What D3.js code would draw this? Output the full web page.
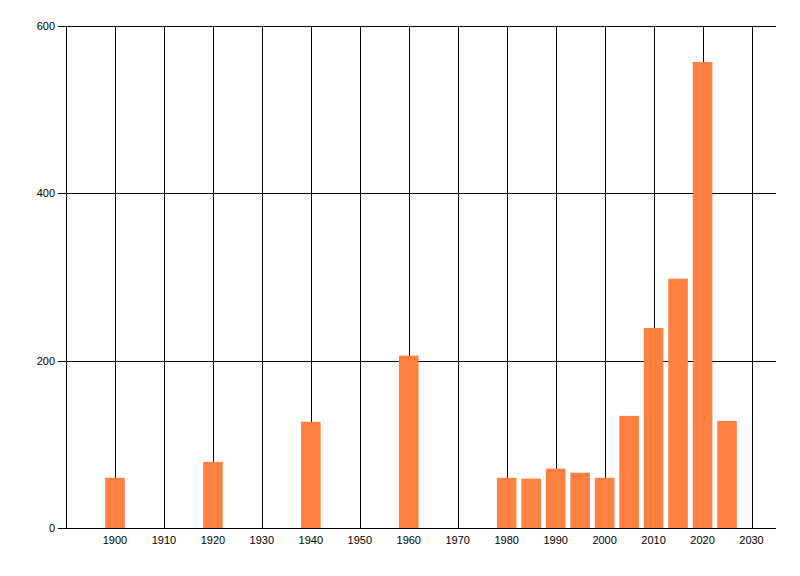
<!DOCTYPE html>
<html>
<head>
<meta charset="utf-8">
<script src="https://cdn.jsdelivr.net/npm/d3@7"></script>
<style>
  body { margin: 0; background: #fff; }
  text { font-family: "Liberation Sans", Arial, sans-serif; font-size: 11px; fill: #000; }
</style>
</head>
<body>
<div id="chart"></div>
<script>
// Bar data: year -> count
const years = [1900, 1920, 1940, 1960, 1980, 1985, 1990, 1995, 2000, 2005, 2010, 2015, 2020, 2025];
const counts = [60, 79, 127, 206, 60, 59, 71, 66, 60, 134, 239, 298, 557, 128];
const xTicks = [1900, 1910, 1920, 1930, 1940, 1950, 1960, 1970, 1980, 1990, 2000, 2010, 2020, 2030];
const yTicks = [0, 200, 400, 600];

const width = 800, height = 576;
const margin = { top: 26, right: 24, bottom: 48, left: 66 };

const svg = d3.select("#chart")
  .append("svg")
  .attr("width", width)
  .attr("height", height);

// Scales
const x = d3.scaleLinear()
  .domain([1890, 2035])
  .range([margin.left, width - margin.right]);
const y = d3.scaleLinear()
  .domain([0, 600])
  .range([height - margin.bottom, margin.top]);

const barW = x(1904) - x(1900);

// Vertical gridlines at each decade
svg.append("g")
  .selectAll("line")
  .data(xTicks)
  .enter()
  .append("line")
  .attr("x1", d => Math.round(x(d)) + 0.5)
  .attr("x2", d => Math.round(x(d)) + 0.5)
  .attr("y1", y(600))
  .attr("y2", y(0))
  .attr("stroke", "#000");

// Horizontal gridlines plus small left ticks
svg.append("g")
  .selectAll("line")
  .data(yTicks)
  .enter()
  .append("line")
  .attr("x1", margin.left - 8)
  .attr("x2", width - margin.right)
  .attr("y1", d => Math.round(y(d)) + 0.5)
  .attr("y2", d => Math.round(y(d)) + 0.5)
  .attr("stroke", "#000");

// Left axis line
svg.append("line")
  .attr("x1", margin.left + 0.5)
  .attr("x2", margin.left + 0.5)
  .attr("y1", y(600))
  .attr("y2", y(0))
  .attr("stroke", "#000");

// Bars
svg.append("g")
  .selectAll("rect")
  .data(years.map((yr, i) => ({ yr, v: counts[i] })))
  .enter()
  .append("rect")
  .attr("x", d => x(d.yr) - barW / 2)
  .attr("width", barW)
  .attr("y", d => y(d.v))
  .attr("height", d => y(0) - y(d.v))
  .attr("fill", "#ff8040");

// X labels
svg.append("g")
  .selectAll("text")
  .data(xTicks)
  .enter()
  .append("text")
  .attr("x", d => x(d))
  .attr("y", y(0) + 16)
  .attr("text-anchor", "middle")
  .text(d => d);

// Y labels
svg.append("g")
  .selectAll("text")
  .data(yTicks)
  .enter()
  .append("text")
  .attr("x", margin.left - 11)
  .attr("y", d => y(d) + 4)
  .attr("text-anchor", "end")
  .text(d => d);
</script>
</body>
</html>
